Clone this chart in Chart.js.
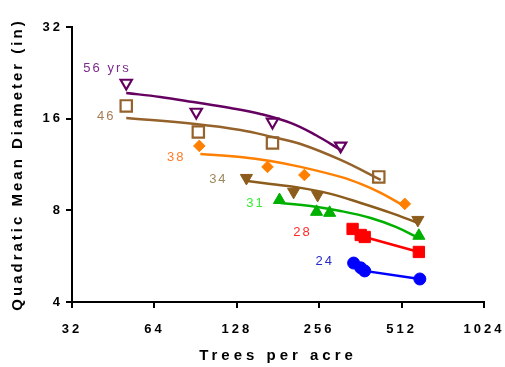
<!DOCTYPE html>
<html><head><meta charset="utf-8">
<script src="https://cdn.jsdelivr.net/npm/chart.js@4"></script>
<style>html,body{margin:0;padding:0;background:#fff}#wrap{width:505px;height:367px}</style>
</head><body><div id="wrap"><canvas id="c" width="505" height="367"></canvas></div>
<script>
// ---- data (trees per acre, quadratic mean diameter in inches) ----
const xTicks = [32, 64, 128, 256, 512, 1024];
const yTicks = [4, 8, 16, 32];
const xTitle = 'Trees per acre';
const yTitle = 'Quadratic Mean Diameter (in)';
const ageLabels = ['56 yrs', '46', '38', '34', '31', '28', '24'];

const tpa56 = [50.5, 91.0, 172.8, 306.6];
const qmd56 = [20.95, 16.83, 15.61, 13.02];
const fitTpa56 = [50.5, 67.2, 88.8, 121.3, 156.2, 201.2, 248.3, 306.6];
const fitQmd56 = [19.43, 18.86, 18.15, 17.35, 16.58, 15.49, 14.14, 12.63];

const tpa46 = [50.5, 92.6, 172.8, 422.6];
const qmd46 = [17.62, 14.47, 13.32, 10.3];
const fitTpa46 = [50.5, 90.3, 132, 172.8, 218.9, 306.6, 429.6];
const fitQmd46 = [16.09, 15.37, 14.69, 13.93, 13.21, 11.71, 10.07];

const tpa38 = [93.4, 165.7, 226, 526];
const qmd38 = [13.02, 11.11, 10.45, 8.40];
const fitTpa38 = [94.2, 132, 170, 218.9, 306.6, 363, 429.6, 530];
const fitQmd38 = [12.25, 11.98, 11.62, 11.11, 10.30, 9.77, 9.13, 8.21];

const tpa34 = [138.8, 206.4, 252.6, 587];
const qmd34 = [10.22, 9.20, 8.99, 7.44];
const fitTpa34 = [140, 170, 218.9, 281.9, 363, 467.5, 587];
const fitQmd34 = [9.99, 9.77, 9.48, 9.06, 8.46, 7.85, 7.27];

const tpa31 = [183.3, 250.4, 279.5, 592];
const qmd31 = [8.65, 7.91, 7.85, 6.60];
const fitTpa31 = [184.8, 238, 306.6, 394.8, 487.5, 592];
const fitQmd31 = [8.46, 8.27, 7.96, 7.55, 7.06, 6.49];

const tpa28 = [339, 363, 375.4, 592];
const qmd28 = [6.95, 6.64, 6.54, 5.84];

const tpa24 = [342, 363, 375.4, 597];
const qmd24 = [5.37, 5.18, 5.06, 4.76];

// label anchor points (data coordinates)
const labelTpa = [42.6, 42.3, 76.3, 108.7, 148.5, 220.7, 265.8];
const labelQmd = [23.47, 16.32, 11.98, 10.07, 8.46, 6.75, 5.42];

// ---- styles ----
const lineColors = ['#650060', '#94622a', '#ff8000', '#8c5c1c', '#00b000', '#ff0000', '#0000ff'];
const textColors = ['#7b2b8b', '#a67c52', '#ff7a2a', '#9c8a5c', '#33ee33', '#ff2a2a', '#2a2acc'];

const pts = (xs, ys) => xs.map((x, i) => ({x, y: ys[i]}));

function markerSet(xs, ys, color, style, radius, filled, rot, showLine) {
  return {
    data: pts(xs, ys), showLine: !!showLine, borderColor: color,
    backgroundColor: filled ? color : 'rgba(0,0,0,0)',
    pointStyle: style, pointRadius: radius, pointHoverRadius: radius,
    pointBorderColor: color, pointBackgroundColor: filled ? color : 'rgba(0,0,0,0)',
    pointBorderWidth: filled ? 1 : 2.2, pointRotation: rot || 0, borderWidth: 2.5, order: 1
  };
}
function fitSet(xs, ys, color) {
  return {
    data: pts(xs, ys), showLine: true, borderColor: color, borderWidth: 2.5,
    pointRadius: 0, pointHoverRadius: 0, tension: 0.4, fill: false, order: 2
  };
}

const datasets = [
  markerSet(tpa56, qmd56, lineColors[0], 'triangle', 6.5, false, 180),
  markerSet(tpa46, qmd46, lineColors[1], 'rect', 8, false, 0),
  markerSet(tpa38, qmd38, lineColors[2], 'rectRot', 5.8, true, 0),
  markerSet(tpa34, qmd34, lineColors[3], 'triangle', 7, true, 180),
  markerSet(tpa31, qmd31, lineColors[4], 'triangle', 7, true, 0),
  markerSet(tpa28, qmd28, lineColors[5], 'rect', 8, true, 0, true),
  markerSet(tpa24, qmd24, lineColors[6], 'circle', 6, true, 0, true),
  fitSet(fitTpa56, fitQmd56, lineColors[0]),
  fitSet(fitTpa46, fitQmd46, lineColors[1]),
  fitSet(fitTpa38, fitQmd38, lineColors[2]),
  fitSet(fitTpa34, fitQmd34, lineColors[3]),
  fitSet(fitTpa31, fitQmd31, lineColors[4])
];

const spacingPlugin = {
  id: 'spacing',
  beforeUpdate(chart) { chart.ctx.letterSpacing = '3px'; },
  beforeLayout(chart) { chart.ctx.letterSpacing = '3px'; },
  beforeDraw(chart) { chart.ctx.letterSpacing = '3px'; }
};
const labelPlugin = {
  id: 'ageLabels',
  afterDatasetsDraw(chart) {
    const ctx = chart.ctx, xs = chart.scales.x, ys = chart.scales.y, ca = chart.chartArea;
    ctx.save();
    ctx.letterSpacing = '2px';
    ctx.font = '13px "Liberation Sans", Arial, sans-serif';
    ctx.textAlign = 'center';
    ctx.textBaseline = 'middle';
    ageLabels.forEach((t, i) => {
      ctx.fillStyle = textColors[i];
      ctx.fillText(t, xs.getPixelForValue(labelTpa[i]) + 1, ys.getPixelForValue(labelQmd[i]));
    });
    // x axis title
    ctx.letterSpacing = '4px';
    ctx.font = 'bold 15px "Liberation Sans", Arial, sans-serif';
    ctx.fillStyle = '#000';
    ctx.fillText(xTitle, (ca.left + ca.right) / 2, 356);
    ctx.restore();
  }
};

const tickFont = {family: '"Liberation Sans", Arial, sans-serif', size: 13, weight: 'bold'};
const titleFont = {family: '"Liberation Sans", Arial, sans-serif', size: 15, weight: 'bold'};

new Chart(document.getElementById('c'), {
  type: 'scatter',
  data: {datasets},
  plugins: [spacingPlugin, labelPlugin],
  options: {
    responsive: false, animation: false, devicePixelRatio: 1,
    layout: {padding: {left: 0, right: 21, top: 27, bottom: 0}},
    plugins: {legend: {display: false}, tooltip: {enabled: false}},
    scales: {
      x: {
        type: 'logarithmic', min: 32, max: 1024,
        afterBuildTicks: s => { s.ticks = xTicks.map(v => ({value: v})); },
        afterFit: s => { s.height = 65; s.paddingLeft = 0; s.paddingRight = 0; },
        ticks: {color: '#000', font: tickFont, padding: 14, autoSkip: false, maxRotation: 0, callback: v => String(v)},
        grid: {display: true, drawOnChartArea: false, drawTicks: true, tickLength: 6, color: '#000', lineWidth: 2},
        border: {display: true, color: '#000', width: 2},
        title: {display: false}
      },
      y: {
        type: 'logarithmic', min: 4, max: 32,
        afterBuildTicks: s => { s.ticks = yTicks.map(v => ({value: v})); },
        afterFit: s => { s.width = 72; },
        ticks: {color: '#000', font: tickFont, padding: 3, autoSkip: false, callback: v => String(v)},
        grid: {display: true, drawOnChartArea: false, drawTicks: true, tickLength: 6, color: '#000', lineWidth: 2},
        border: {display: true, color: '#000', width: 2},
        title: {display: true, text: yTitle, color: '#000', font: titleFont, padding: {top: 9, bottom: 0}}
      }
    }
  }
});
</script></body></html>
